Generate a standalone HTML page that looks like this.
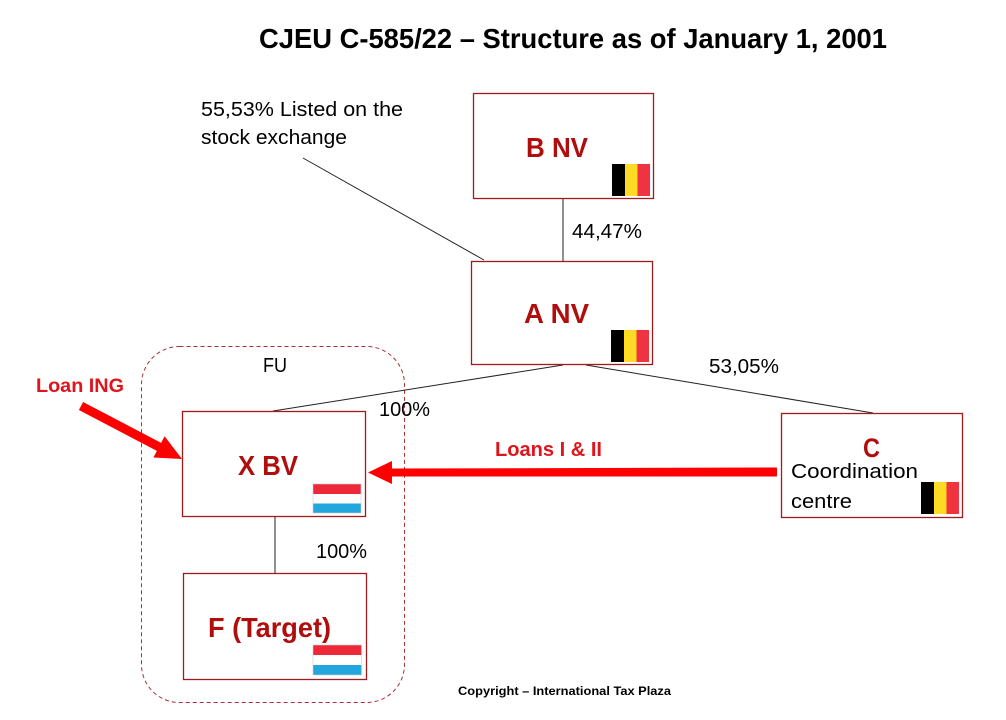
<!DOCTYPE html>
<html>
<head>
<meta charset="utf-8">
<style>
html,body{margin:0;padding:0;background:#fff;}
svg{display:block;}
text{font-family:"Liberation Sans",Arial,sans-serif;}
</style>
</head>
<body>
<svg width="1006" height="720" viewBox="0 0 1006 720" xmlns="http://www.w3.org/2000/svg">
  <rect width="1006" height="720" fill="#fff"/>

  <!-- Title -->
  <text x="259" y="48" font-size="28" font-weight="bold" fill="#000" textLength="628" lengthAdjust="spacingAndGlyphs">CJEU C-585/22 – Structure as of January 1, 2001</text>

  <!-- FU dashed rounded rect -->
  <rect x="141.5" y="346.5" width="263" height="356" rx="38" ry="38" fill="none" stroke="#a83236" stroke-width="1" stroke-dasharray="4 3"/>
  <text x="263" y="372" font-size="20" fill="#000" textLength="24" lengthAdjust="spacingAndGlyphs">FU</text>

  <!-- connector lines -->
  <line x1="303" y1="158" x2="484" y2="260" stroke="#222" stroke-width="1"/>
  <line x1="563" y1="199" x2="563" y2="261" stroke="#222" stroke-width="1"/>
  <line x1="563" y1="365" x2="273" y2="411" stroke="#222" stroke-width="1"/>
  <line x1="586" y1="365" x2="873" y2="413" stroke="#222" stroke-width="1"/>
  <line x1="275" y1="517" x2="275" y2="573" stroke="#222" stroke-width="1"/>

  <!-- B NV -->
  <rect x="473.5" y="93.5" width="180" height="105" fill="#fff" stroke="#a01c1c" stroke-width="1.3"/>
  <text x="526" y="157" font-size="28" font-weight="bold" fill="#b00d0d" textLength="62" lengthAdjust="spacingAndGlyphs">B NV</text>
  <rect x="612" y="164" width="13" height="32" fill="#000"/>
  <rect x="625" y="164" width="12.5" height="32" fill="#fdda24"/>
  <rect x="637.5" y="164" width="12.5" height="32" fill="#ef3340"/>

  <!-- A NV -->
  <rect x="471.5" y="261.5" width="181" height="103" fill="#fff" stroke="#a01c1c" stroke-width="1.3"/>
  <text x="524" y="323" font-size="28" font-weight="bold" fill="#b00d0d" textLength="65" lengthAdjust="spacingAndGlyphs">A NV</text>
  <rect x="611" y="330" width="13" height="32" fill="#000"/>
  <rect x="624" y="330" width="12.5" height="32" fill="#fdda24"/>
  <rect x="636.5" y="330" width="12.5" height="32" fill="#ef3340"/>

  <!-- X BV -->
  <rect x="182.5" y="411.5" width="183" height="105" fill="#fff" stroke="#a01c1c" stroke-width="1.3"/>
  <text x="238" y="475" font-size="28" font-weight="bold" fill="#b00d0d" textLength="60" lengthAdjust="spacingAndGlyphs">X BV</text>
  <rect x="313" y="484" width="48" height="10" fill="#ed2939"/>
  <rect x="313" y="494" width="48" height="9.5" fill="#fff"/>
  <rect x="313" y="503.5" width="48" height="9.5" fill="#22a6de"/>
  <rect x="313" y="484" width="48" height="29" fill="none" stroke="#ccc" stroke-width="0.6"/>

  <!-- F (Target) -->
  <rect x="183.5" y="573.5" width="183" height="106" fill="#fff" stroke="#a01c1c" stroke-width="1.3"/>
  <text x="208" y="637" font-size="28" font-weight="bold" fill="#b00d0d" textLength="123" lengthAdjust="spacingAndGlyphs">F (Target)</text>
  <rect x="313" y="645" width="48.5" height="10" fill="#ed2939"/>
  <rect x="313" y="655" width="48.5" height="10" fill="#fff"/>
  <rect x="313" y="665" width="48.5" height="10" fill="#22a6de"/>
  <rect x="313" y="645" width="48.5" height="30" fill="none" stroke="#ccc" stroke-width="0.6"/>

  <!-- C -->
  <rect x="781.5" y="413.5" width="181" height="104" fill="#fff" stroke="#a01c1c" stroke-width="1.3"/>
  <text x="863" y="457" font-size="27" font-weight="bold" fill="#b00d0d" textLength="17" lengthAdjust="spacingAndGlyphs">C</text>
  <text x="791" y="478" font-size="20" fill="#000" textLength="127" lengthAdjust="spacingAndGlyphs">Coordination</text>
  <text x="791" y="508" font-size="20" fill="#000" textLength="61" lengthAdjust="spacingAndGlyphs">centre</text>
  <rect x="921" y="482" width="13" height="32" fill="#000"/>
  <rect x="934" y="482" width="12.5" height="32" fill="#fdda24"/>
  <rect x="946.5" y="482" width="12.5" height="32" fill="#ef3340"/>

  <!-- labels -->
  <text x="201" y="116" font-size="20" fill="#000" textLength="202" lengthAdjust="spacingAndGlyphs">55,53% Listed on the</text>
  <text x="201" y="144" font-size="20" fill="#000" textLength="146" lengthAdjust="spacingAndGlyphs">stock exchange</text>
  <text x="572" y="238" font-size="20" fill="#000" textLength="70" lengthAdjust="spacingAndGlyphs">44,47%</text>
  <text x="709" y="373" font-size="20" fill="#000" textLength="70" lengthAdjust="spacingAndGlyphs">53,05%</text>
  <text x="379" y="416" font-size="20" fill="#000" textLength="51" lengthAdjust="spacingAndGlyphs">100%</text>
  <text x="316" y="558" font-size="20" fill="#000" textLength="51" lengthAdjust="spacingAndGlyphs">100%</text>

  <!-- Loans I & II arrow -->
  <polygon points="777,467.5 392,468.5 392,461 368,472.5 392,484 392,476.5 777,476.5" fill="#ff0000"/>
  <text x="495" y="456" font-size="20" font-weight="bold" fill="#e0141c" textLength="107" lengthAdjust="spacingAndGlyphs">Loans I &amp; II</text>

  <!-- Loan ING arrow -->
  <polygon points="83.1,402 161.1,442.9 164.6,436.3 182,459 153.4,457.5 156.9,450.9 78.9,410" fill="#ff0000"/>
  <text x="36" y="392" font-size="19" font-weight="bold" fill="#e0141c" textLength="88" lengthAdjust="spacingAndGlyphs">Loan ING</text>

  <!-- Copyright -->
  <text x="458" y="695" font-size="12" font-weight="bold" fill="#000" textLength="213" lengthAdjust="spacingAndGlyphs">Copyright – International Tax Plaza</text>
</svg>
</body>
</html>
